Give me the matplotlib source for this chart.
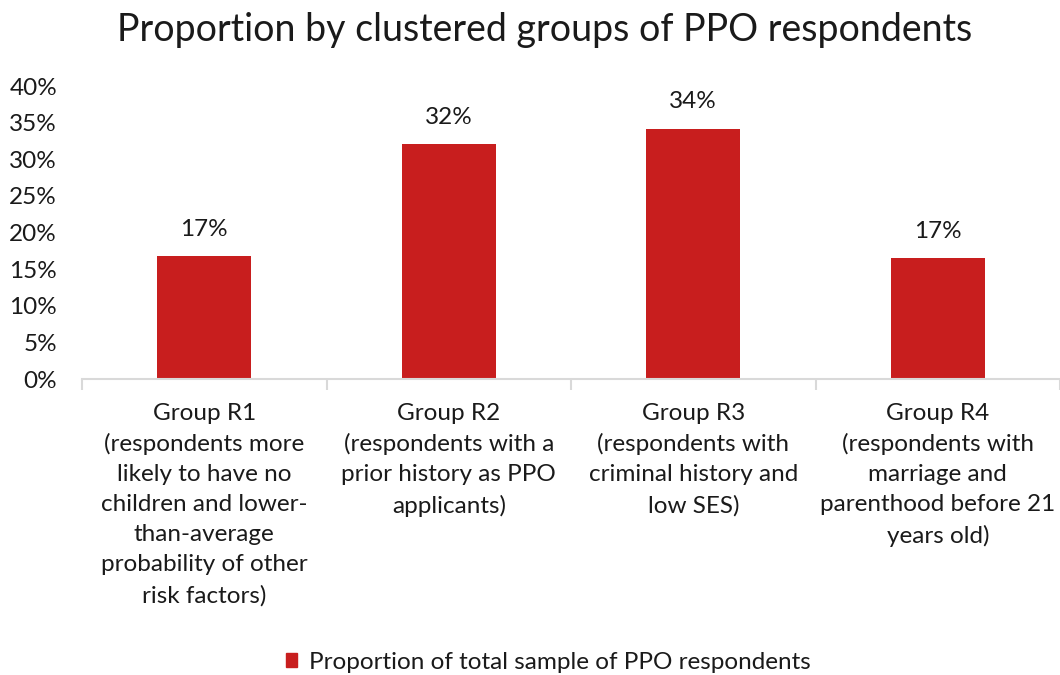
import matplotlib
matplotlib.use("Agg")
import matplotlib.pyplot as plt
from matplotlib.ticker import FixedLocator, PercentFormatter
from matplotlib.patches import Patch

categories = [
    "Group R1\n(respondents more\nlikely to have no\nchildren and lower-\nthan-average\nprobability of other\nrisk factors)",
    "Group R2\n(respondents with a\nprior history as PPO\napplicants)",
    "Group R3\n(respondents with\ncriminal history and\nlow SES)",
    "Group R4\n(respondents with\nmarriage and\nparenthood before 21\nyears old)",
]
values = [16.8, 32.1, 34.2, 16.5]
value_labels = ["17%", "32%", "34%", "17%"]
series_name = "Proportion of total sample of PPO respondents"
title = "Proportion by clustered groups of PPO respondents"

plt.rcParams['font.family'] = ['Lato', 'DejaVu Sans']
RED = "#c81e1e"
TXT = "#1a1a1a"
FS = 17.5

fig = plt.figure(figsize=(10.6, 6.75), dpi=100)
ax = fig.add_axes([0.0774, 0.4385, 0.9226, 0.434])

x = list(range(len(categories)))
ax.bar(x, values, width=0.385, color=RED, zorder=2)
for xi, v, lab in zip(x, values, value_labels):
    ax.text(xi, v + 2.2, lab, ha="center", va="bottom", fontsize=FS, color=TXT)

ax.set_xlim(-0.5, len(categories) - 0.5)
ax.set_ylim(0, 40)
ax.set_yticks(range(0, 41, 5))
ax.yaxis.set_major_formatter(PercentFormatter(decimals=0))
ax.tick_params(axis="y", length=0, labelsize=FS, labelcolor=TXT, pad=18)

ax.set_xticks(x)
ax.set_xticklabels(categories, fontsize=FS, color=TXT, linespacing=1.53, va="top")
ax.tick_params(axis="x", which="major", length=0, pad=17)
ax.xaxis.set_minor_locator(FixedLocator([i - 0.5 for i in range(len(categories) + 1)]))
ax.tick_params(axis="x", which="minor", length=8, width=1.5, color="#d9d9d9", direction="out")

for s in ["top", "right", "left"]:
    ax.spines[s].set_visible(False)
ax.spines["bottom"].set_color("#d9d9d9")
ax.spines["bottom"].set_linewidth(1.5)

fig.text(0.514, 0.955, title, ha="center", va="center", fontsize=27, color=TXT)

handle = Patch(facecolor=RED, edgecolor=RED)
fig.legend([handle], [series_name], loc="center", bbox_to_anchor=(0.517, 0.019),
           frameon=False, fontsize=FS, handlelength=0.45, handleheight=0.45,
           handletextpad=0.5, labelcolor=TXT, borderpad=0)

fig.savefig("out.png", dpi=100)
